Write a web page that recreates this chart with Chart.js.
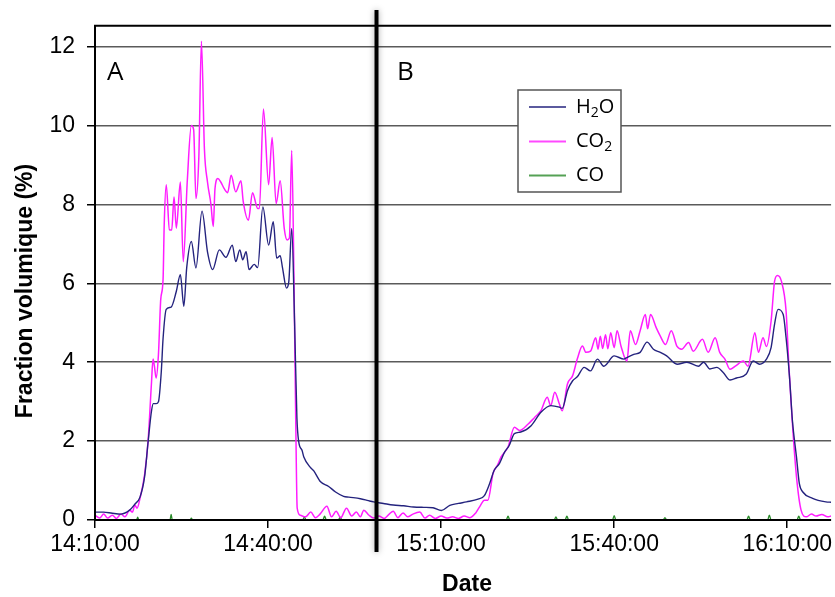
<!DOCTYPE html>
<html>
<head>
<meta charset="utf-8">
<script src="https://cdn.jsdelivr.net/npm/chart.js@4.4.0/dist/chart.umd.min.js"></script>
<style>
html, body { margin: 0; padding: 0; background: #fff; }
#wrap { width: 835px; height: 597px; position: relative; }
</style>
</head>
<body>
<div id="wrap"><canvas id="lineChart"></canvas></div>
<script>
// time axis in minutes after 14:10:00
var tickMinutes = [0, 30, 60, 90, 120];
var timeTicks = ['14:10:00', '14:40:00', '15:10:00', '15:40:00', '16:10:00'];
var yTicks = [0, 2, 4, 6, 8, 10, 12];
var splitMinute = 48.8;   // separation between test A and test B
var panelLabels = ['A', 'B'];
var seriesNames = ['H2O', 'CO2', 'CO'];

var h2oMin = [0, 1.5, 3, 4.5, 6, 6.9, 7.8, 8.6, 9.2, 9.8, 10.1, 10.6, 11.0, 11.5, 11.8, 12.35, 13.2, 14.1, 14.8, 15.4, 15.9,
  16.7, 17.5, 18.55, 19.5, 20.4, 21.55, 22.7, 23.8, 24.4, 25.1, 25.6, 26.2, 26.7, 27.6, 28.2, 29.1, 30.1, 30.9, 31.5,
  32.1, 32.5, 33.2, 33.6, 34.1, 34.6, 35.0, 35.3, 35.9, 36.2, 37.3, 37.9, 39.1, 40.5, 41.7, 43.1, 44.0, 46.0, 47.4,
  48.3, 50, 51.7, 53.5, 55.2, 57, 58.6, 60.05, 61.5, 63, 64.4, 66.4, 67.5, 68.4, 69.2, 70.1, 71.0, 71.8, 72.7, 73.8,
  75.6, 77.3, 79.0, 80.5, 81.0, 81.9, 82.8, 83.6, 84.8, 85.9, 87.1, 88.2, 90, 91.7, 92.2, 93.4, 94.5, 95.7, 96.8,
  98.0, 99.1, 100.9, 102.6, 104.6, 105.5, 106.6, 107.8, 108.9, 110.1, 111.2, 112.9, 114.1, 115.2, 116.4, 117.2,
  117.8, 118.4, 119.3, 119.8, 120.4, 120.9, 121.6, 122.1, 122.7, 124.4, 126.7, 127.6];
var h2oVal = [0.2, 0.2, 0.17, 0.15, 0.25, 0.4, 0.58, 1.1, 1.97, 2.77, 2.95, 2.95, 3.0, 3.78, 4.6, 5.34, 5.4, 5.8, 6.22, 5.42, 6.4,
  7.06, 6.39, 7.83, 6.8, 6.35, 6.85, 6.66, 6.97, 6.55, 6.85, 6.6, 6.8, 6.35, 6.48, 6.4, 7.94, 6.97, 7.56, 6.64,
  6.7, 6.4, 5.88, 6.05, 7.39, 5.0, 2.6, 2.0, 1.76, 1.6, 1.34, 1.25, 0.97, 0.85, 0.71, 0.6, 0.58, 0.54, 0.49,
  0.46, 0.42, 0.38, 0.36, 0.33, 0.32, 0.31, 0.24, 0.37, 0.42, 0.46, 0.53, 0.62, 0.92, 1.26, 1.43, 1.72, 1.89, 2.19, 2.23,
  2.39, 2.73, 2.9, 2.86, 2.83, 3.28, 3.53, 3.63, 3.87, 3.78, 4.08, 3.9, 4.16, 4.08, 4.12, 4.2, 4.25, 4.51, 4.33,
  4.25, 4.16, 3.95, 4.0, 3.9, 4.0, 3.83, 3.87, 3.74, 3.55, 3.6, 3.7, 4.03, 3.95, 4.08, 4.37,
  4.96, 5.34, 5.21, 4.62, 3.61, 2.52, 1.6, 0.92, 0.71, 0.55, 0.46, 0.45];

var co2Min = [0, 0.8, 1.5, 2.2, 3, 3.7, 4.5, 5.2, 6, 6.5, 6.9, 7.3, 7.8, 8.6, 9.2, 9.8, 10.06, 10.3, 10.6, 11.0, 11.4, 11.8,
  12.0, 12.35, 12.9, 13.3, 13.7, 14.1, 14.8, 15.3, 16.0, 16.7, 17.1, 17.5, 18.0, 18.45, 18.97, 19.5, 20.1, 20.5, 20.8,
  21.3, 21.8, 22.4, 23.0, 23.6, 24.4, 25.3, 25.7, 26.6, 27.3, 28.2, 28.5, 29.2, 30.1, 30.7, 31.4, 32.1, 32.8, 33.3,
  33.7, 34.1, 34.5, 34.8, 35.05, 35.6, 36.5, 37.4, 38.2, 39.0, 40.2, 41.0, 41.8, 42.6, 43.6, 44.5, 45.3, 46.0, 46.6,
  47.5, 48.3, 49.2, 50.1, 51, 51.7, 52.5, 53.4, 54.2, 55.1, 56.3, 57.2, 58.0, 59, 60, 61, 62, 63, 64, 65, 66, 66.7,
  67.5, 68.1, 69, 69.8, 70.4, 71.6, 72.7, 73.6, 75, 76.2, 77.3, 78.4, 79, 79.7, 80.5, 81, 81.9, 82.8, 83.6, 84.5,
  85.1, 85.9, 86.8, 87.2, 87.6, 88.0, 88.5, 88.9, 89.4, 90, 90.5, 91.2, 92.2, 92.8, 93.7, 94.5, 95.4, 95.8, 96.3,
  97.3, 98.0, 98.9, 99.9, 100.9, 101.7, 102.9, 103.7, 105.3, 106.3, 107.5, 108.3, 109.2, 110.1, 111.0, 112.4,
  113.2, 114.4, 115.0, 115.8, 116.4, 117.2, 117.8, 118.3, 119.0, 119.8, 120.3, 120.9, 121.6, 122.4, 123.3, 124.2,
  125.0, 126, 127, 127.6];
var co2Val = [0.12, 0.05, 0.15, 0.05, 0.12, 0.04, 0.15, 0.08, 0.25, 0.2, 0.38, 0.3, 0.55, 1.15, 2.0, 3.5, 4.08, 3.9, 3.6, 4.2, 5.6, 6.1,
  7.5, 8.5, 7.36, 7.35, 8.19, 7.4, 8.57, 6.55, 8.6, 10.0, 9.9, 8.15, 9.2, 12.14, 9.4, 8.57, 8.0, 7.44, 8.4,
  8.66, 8.57, 8.4, 8.3, 8.74, 8.32, 8.6, 8.07, 7.6, 8.3, 7.9, 7.9, 10.42, 8.5, 9.7, 8.02, 8.6, 7.4, 7.1,
  7.15, 9.37, 6.0, 2.5, 0.3, 0.12, 0.08, 0.2, 0.06, 0.15, 0.35, 0.08, 0.22, 0.06, 0.3, 0.1, 0.2, 0.08, 0.25,
  0.12, 0.05, 0.1, 0.04, 0.15, 0.22, 0.06, 0.18, 0.08, 0.15, 0.2, 0.05, 0.12, 0.04, 0.1, 0.05, 0.08, 0.04, 0.1, 0.06, 0.18, 0.34,
  0.5, 0.5, 1.18, 1.4, 1.6, 1.85, 2.35, 2.27, 2.42, 2.6, 2.77, 3.11, 2.9, 3.24, 2.94, 2.77, 3.45, 3.66, 4.08, 4.41,
  4.25, 4.28, 4.62, 4.33, 4.66, 4.35, 4.7, 4.34, 4.75, 4.37, 4.8, 4.4, 4.03, 4.8, 4.45, 4.8, 5.21, 4.85, 5.21,
  4.87, 4.66, 4.45, 4.8, 4.4, 4.33, 4.5, 4.28, 4.58, 4.25, 4.62, 4.25, 4.08, 3.82, 3.9, 4.03,
  3.9, 4.75, 4.25, 4.62, 4.4, 5.04, 6.05, 6.2, 6.05, 5.3, 3.87, 2.44, 1.1, 0.25, 0.08, 0.15,
  0.1, 0.14, 0.08, 0.1];

var coMin = [0, 7.2, 7.4, 7.6, 13.0, 13.2, 13.4, 16.5, 16.7, 16.9, 36.0, 36.3, 36.6, 39.5, 39.8, 40.1, 42.2, 42.5, 42.8,
  71.3, 71.6, 71.9, 79.6, 79.9, 80.2, 81.5, 81.8, 82.1, 89.7, 90.0, 90.3, 98.5, 98.8, 99.1, 113.0, 113.3, 113.6,
  116.6, 116.9, 117.2, 121.7, 122.0, 122.3, 127.6];
var coVal = [0, 0, 0.07, 0, 0, 0.14, 0, 0, 0.05, 0, 0, 0.08, 0, 0, 0.1, 0, 0, 0.07, 0,
  0, 0.1, 0, 0, 0.08, 0, 0, 0.1, 0, 0, 0.11, 0, 0, 0.06, 0, 0, 0.1, 0,
  0, 0.12, 0, 0, 0.1, 0, 0];

function pts(xs, ys) {
  return xs.map(function (x, i) { return { x: x, y: ys[i] }; });
}

var colors = ['#24237e', '#ff1cff', '#2a8a2a'];

var framePlugin = {
  id: 'frame',
  afterDatasetsDraw: function (chart) {
    var ctx = chart.ctx;
    var a = chart.chartArea;
    var xs = chart.scales.x;
    ctx.save();
    // axes frame
    ctx.strokeStyle = '#000';
    ctx.lineWidth = 2;
    ctx.beginPath();
    ctx.moveTo(a.left, a.top);
    ctx.lineTo(a.right, a.top);
    ctx.moveTo(a.left, a.top - 1);
    ctx.lineTo(a.left, a.bottom + 1);
    ctx.moveTo(a.left - 1, a.bottom);
    ctx.lineTo(a.right, a.bottom);
    ctx.stroke();

    // separation between A and B
    var sx = xs.getPixelForValue(splitMinute);
    ctx.save();
    ctx.shadowColor = 'rgba(0,0,0,0.35)';
    ctx.shadowBlur = 6;
    ctx.lineWidth = 4;
    ctx.beginPath();
    ctx.moveTo(sx, 10);
    ctx.lineTo(sx, 552);
    ctx.stroke();
    ctx.restore();

    // panel letters
    ctx.fillStyle = '#000';
    ctx.font = '26px "Open Sans"';
    ctx.textBaseline = 'alphabetic';
    ctx.textAlign = 'left';
    ctx.fillText(panelLabels[0], 107, 80);
    ctx.fillText(panelLabels[1], 397, 80);

    // legend
    ctx.fillStyle = '#fff';
    ctx.fillRect(518, 90, 103, 102);
    ctx.strokeStyle = '#555';
    ctx.lineWidth = 1.5;
    ctx.strokeRect(518, 90, 103, 102);
    var rows = [107, 141.5, 175.5];
    ctx.font = '20px "Open Sans"';
    ctx.textBaseline = 'middle';
    rows.forEach(function (ry, i) {
      ctx.strokeStyle = colors[i];
      ctx.globalAlpha = i === 0 ? 0.75 : 0.8;
      ctx.lineWidth = 2;
      ctx.beginPath();
      ctx.moveTo(529, ry);
      ctx.lineTo(566, ry);
      ctx.stroke();
      ctx.globalAlpha = 1;
      ctx.fillStyle = '#000';
      var tx = 576;
      var name = seriesNames[i];
      for (var k = 0; k < name.length; k++) {
        var ch = name[k];
        if (ch >= '0' && ch <= '9') {
          ctx.font = '14px "Open Sans"';
          ctx.fillText(ch, tx, ry + 6);
          tx += ctx.measureText(ch).width;
          ctx.font = '20px "Open Sans"';
        } else {
          ctx.fillText(ch, tx, ry);
          tx += ctx.measureText(ch).width;
        }
      }
    });

    // axis titles
    ctx.fillStyle = '#000';
    ctx.font = 'bold 23px "Liberation Sans"';
    ctx.textAlign = 'center';
    ctx.textBaseline = 'middle';
    ctx.fillText('Date', (a.left + a.right) / 2 + 4, 585);
    ctx.translate(26, 291);
    ctx.rotate(-Math.PI / 2);
    ctx.fillText('Fraction volumique (%)', 0, 0);
    ctx.restore();
  }
};

var ctx = document.getElementById('lineChart').getContext('2d');
var myChart = new Chart(ctx, {
  type: 'line',
  data: {
    datasets: [{
      label: seriesNames[0],
      data: pts(h2oMin, h2oVal),
      borderColor: colors[0],
      borderWidth: 1.4
    }, {
      label: seriesNames[1],
      data: pts(co2Min, co2Val),
      borderColor: colors[1],
      borderWidth: 1.5
    }, {
      label: seriesNames[2],
      data: pts(coMin, coVal),
      borderColor: colors[2],
      borderWidth: 1.3
    }]
  },
  options: {
    responsive: true,
    maintainAspectRatio: false,
    animation: false,
    devicePixelRatio: 1,
    layout: { padding: { top: 23, left: 0, right: 0, bottom: 0 } },
    elements: {
      point: { radius: 0 },
      line: { cubicInterpolationMode: 'monotone' }
    },
    plugins: {
      legend: { display: false },
      tooltip: { enabled: false }
    },
    scales: {
      x: {
        type: 'linear',
        min: 0,
        max: 127.6,
        afterBuildTicks: function (s) { s.ticks = tickMinutes.map(function (v) { return { value: v }; }); },
        afterFit: function (s) { s.height = 77; },
        ticks: {
          callback: function (v, i) { return timeTicks[i]; },
          color: '#000',
          padding: 3,
          maxRotation: 0,
          autoSkip: false,
          font: { family: 'Liberation Sans', size: 23 }
        },
        grid: { drawOnChartArea: false, drawTicks: true, tickLength: 8, color: '#000', lineWidth: 1.5 },
        border: { display: false }
      },
      y: {
        min: 0,
        max: 12.53,
        afterBuildTicks: function (s) { s.ticks = yTicks.map(function (v) { return { value: v }; }); },
        afterFit: function (s) { s.width = 95; },
        ticks: {
          color: '#000',
          padding: 12,
          font: { family: 'Liberation Sans', size: 23 }
        },
        grid: { color: '#5a5a5a', lineWidth: 1.5, tickLength: 8, tickColor: '#000' },
        border: { display: false }
      }
    }
  },
  plugins: [framePlugin]
});
</script>
</body>
</html>
